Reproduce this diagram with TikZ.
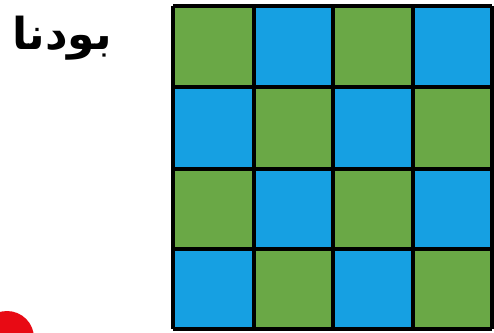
\documentclass[tikz,border=0pt]{standalone}
\usepackage{fontspec}
\newfontfamily\arabicfont[Script=Arabic]{DejaVu Sans}
\TeXXeTstate=1
\definecolor{gr}{RGB}{106,168,70}
\definecolor{bl}{RGB}{22,160,226}
\definecolor{rd}{RGB}{232,10,20}
\begin{document}
\begin{tikzpicture}[x=1pt,y=-1pt,
  cellG/.style={fill=gr},
  cellB/.style={fill=bl},
  gridline/.style={line width=3.2pt,black}]
\useasboundingbox (0,0) rectangle (494,332);
\fill[white] (0,0) rectangle (494,332);
\def\xa{173}\def\xb{254}\def\xc{333}\def\xd{413}\def\xe{492}
\def\ya{6}\def\yb{87}\def\yc{169}\def\yd{249}\def\ye{329}
% row 1
\fill[cellG] (\xa,\ya) rectangle (\xb,\yb);
\fill[cellB] (\xb,\ya) rectangle (\xc,\yb);
\fill[cellG] (\xc,\ya) rectangle (\xd,\yb);
\fill[cellB] (\xd,\ya) rectangle (\xe,\yb);
% row 2
\fill[cellB] (\xa,\yb) rectangle (\xb,\yc);
\fill[cellG] (\xb,\yb) rectangle (\xc,\yc);
\fill[cellB] (\xc,\yb) rectangle (\xd,\yc);
\fill[cellG] (\xd,\yb) rectangle (\xe,\yc);
% row 3
\fill[cellG] (\xa,\yc) rectangle (\xb,\yd);
\fill[cellB] (\xb,\yc) rectangle (\xc,\yd);
\fill[cellG] (\xc,\yc) rectangle (\xd,\yd);
\fill[cellB] (\xd,\yc) rectangle (\xe,\yd);
% row 4
\fill[cellB] (\xa,\yd) rectangle (\xb,\ye);
\fill[cellG] (\xb,\yd) rectangle (\xc,\ye);
\fill[cellB] (\xc,\yd) rectangle (\xd,\ye);
\fill[cellG] (\xd,\yd) rectangle (\xe,\ye);
% grid lines
\foreach \x in {\xa,\xb,\xc,\xd,\xe} \draw[gridline] (\x,\ya) -- (\x,\ye);
\foreach \y in {\ya,\yb,\yc,\yd,\ye} \draw[gridline] (\xa,\y) -- (\xe,\y);
% red circle
\fill[rd] (7,338) circle (27);
% text
\node[anchor=center,inner sep=0pt] (word) at (62,38) {\arabicfont\bfseries\fontsize{44}{48}\selectfont\beginR بودنا\endR};
\end{tikzpicture}
\end{document}
